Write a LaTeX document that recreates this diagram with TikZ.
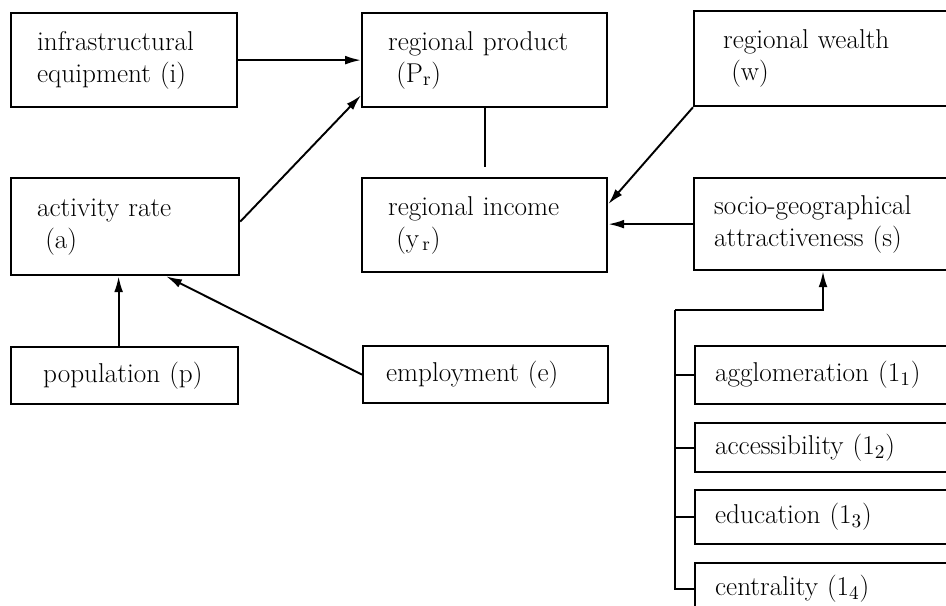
\documentclass[tikz,border=0pt]{standalone}
\usepackage{amsmath}
\usepackage{tikz}
\usetikzlibrary{arrows.meta}
\newcommand{\boxinset}{0.52cm}
\newcommand{\indentlabel}{\hspace*{0.3em}}
\tikzstyle{factor}=[draw, line width=1.3pt, anchor=north west, align=left, inner ysep=0,
                    inner xsep=\boxinset, text width=4.9cm-2*\boxinset, minimum height=1.88cm,
                    font=\fontsize{15.5}{18.2}\selectfont]
\tikzstyle{wfactor}=[factor, text width=6cm]
\tikzstyle{sfactor}=[factor, minimum height=1.1cm]
\tikzstyle{link}=[line width=1.1pt]
\tikzstyle{arr}=[link, -{Latex[length=9pt, width=5pt]}]
\tikzstyle{diagram}=[x=0.02cm, y=-0.02cm,
                     % Keep the page at the size of the scan, the right column runs off it.
                     execute at begin picture={\useasboundingbox (0,0) rectangle (946,605); \clip (0,0) rectangle (946,605);}]

\begin{document}
\begin{tikzpicture}[diagram]
        \node[factor, text width=4.52cm-2*\boxinset] (infra) at (10, 12) {infrastructural\\equipment (i)};
        \node[factor] (product) at (361, 12) {regional product\\\indentlabel(P$_\mathrm{r}$)};
        \node[wfactor, inner xsep=0.58cm, minimum height=1.9cm] (wealth) at (693, 10) {regional wealth\\\indentlabel(w)};
        \node[factor, text width=4.56cm-2*\boxinset, minimum height=1.94cm] (activity) at (10, 177) {activity rate\\\indentlabel(a)};
        \node[factor] (income) at (361, 177) {regional income\\\indentlabel(y$_{\,\mathrm{r}}$)};
        \node[wfactor, inner xsep=0.4cm, minimum height=1.84cm] (socio) at (693, 177) {socio-geographical\\attractiveness (s)};
        \node[sfactor, inner xsep=0.64cm, text width=4.54cm-1.28cm, minimum height=1.14cm] (population) at (10, 346) {population (p)};
        \node[sfactor, inner xsep=0.46cm, text width=4.9cm-0.92cm, minimum height=1.14cm] (employment) at (362, 345) {employment (e)};
        \node[sfactor, wfactor, inner xsep=0.4cm, minimum height=1.16cm] (l1) at (694, 345) {agglomeration (1$_1$)};
        \node[sfactor, wfactor, inner xsep=0.4cm, minimum height=0.98cm] (l2) at (694, 422) {accessibility (1$_2$)};
        \node[sfactor, wfactor, inner xsep=0.4cm, minimum height=1.08cm] (l3) at (694, 489) {education (1$_3$)};
        \node[sfactor, wfactor, inner xsep=0.4cm, minimum height=1.04cm] (l4) at (694, 562) {centrality (1$_4$)};
        \coordinate (bus) at (675, 310);
        \coordinate (join) at (823, 310);
        \draw[arr] (infra.east) -- (infra.east -| product.west);
        \draw[arr] ([yshift=0.1cm]activity.east) -- ([yshift=0.26cm]product.south west);
        \draw[link] (product.south) -- ([yshift=0.2cm]income.north);
        \draw[arr] (wealth.south west) -- ([yshift=0.42cm]income.east);
        \draw[arr] (socio.west) -- (socio.west -| income.east);
        \draw[arr] ([xshift=-0.12cm]population.north) -- ([xshift=-0.12cm]population.north |- activity.south);
        \draw[arr] (employment.west) -- ([xshift=0.82cm]activity.south);
        \draw[arr] (bus) -- (join) -- (join |- socio.south);
        \draw[link] (bus) |- (l4.west);
        \foreach \l in {l1, l2, l3}
            \draw[link] (bus |- \l.west) -- (\l.west);
    \end{tikzpicture}
\end{document}
